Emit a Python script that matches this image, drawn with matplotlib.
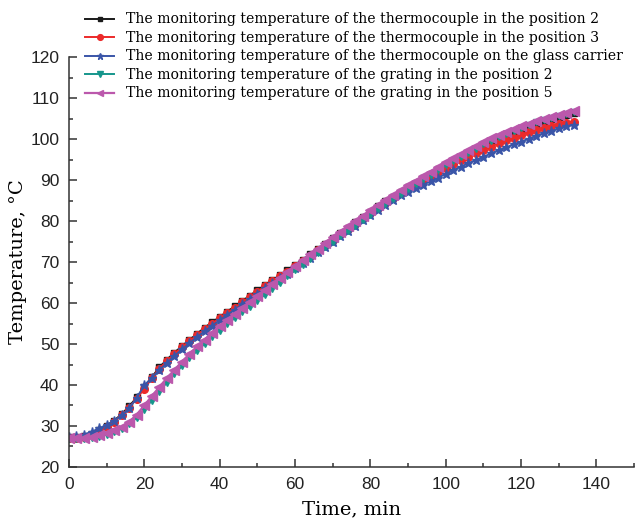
import matplotlib
matplotlib.use('Agg')
import numpy as np
import matplotlib.pyplot as plt
from matplotlib.ticker import MultipleLocator

# time axis, min (one reading every 2 min)
t = np.arange(0, 136, 2)

tc_pos2 = [27.2, 27.3, 27.6, 28.1, 28.9, 30.0, 31.3, 32.9, 34.8, 37.0,
           39.4, 41.9, 44.3, 46.2, 47.9, 49.5, 51.0, 52.5, 54.0, 55.3,
           56.6, 57.9, 59.2, 60.5, 61.8, 63.1, 64.4, 65.6, 66.8, 68.0,
           69.3, 70.6, 71.9, 73.2, 74.5, 75.8, 77.1, 78.4, 79.7, 81.0,
           82.3, 83.6, 84.8, 86.0, 87.2, 88.3, 89.4, 90.5, 91.6, 92.6,
           93.6, 94.6, 95.6, 96.6, 97.5, 98.4, 99.3, 100.1, 100.9, 101.7,
           102.4, 103.1, 103.7, 104.3, 104.8, 105.3, 105.9, 106.4]
tc_pos3 = [27.0, 27.1, 27.4, 27.9, 28.6, 29.7, 31.0, 32.6, 34.5, 36.7,
           39.1, 41.6, 44.0, 45.9, 47.6, 49.2, 50.7, 52.2, 53.7, 55.0,
           56.3, 57.6, 58.9, 60.2, 61.5, 62.8, 64.1, 65.3, 66.5, 67.7,
           69.0, 70.3, 71.6, 72.9, 74.2, 75.5, 76.8, 78.1, 79.4, 80.7,
           82.0, 83.3, 84.5, 85.7, 86.9, 88.0, 89.1, 90.1, 91.1, 92.1,
           93.0, 93.9, 94.8, 95.7, 96.6, 97.4, 98.2, 99.0, 99.7, 100.4,
           101.1, 101.7, 102.3, 102.8, 103.3, 103.7, 104.0, 104.3]
tc_glass = [27.3, 27.5, 27.9, 28.6, 29.4, 30.3, 31.3, 32.6, 34.3, 36.9,
            39.9, 41.8, 43.6, 45.4, 47.1, 48.7, 50.2, 51.7, 53.1, 54.5,
            55.8, 57.1, 58.4, 59.7, 61.0, 62.3, 63.6, 64.8, 66.0, 67.2,
            68.5, 69.8, 71.1, 72.4, 73.7, 75.0, 76.3, 77.6, 78.9, 80.2,
            81.5, 82.8, 84.0, 85.2, 86.4, 87.2, 88.0, 88.9, 89.7, 90.6,
            91.5, 92.4, 93.3, 94.1, 94.9, 95.7, 96.5, 97.3, 98.0, 98.7,
            99.4, 100.1, 100.8, 101.4, 102.0, 102.6, 103.1, 103.5]
gr_pos2 = [26.8, 26.8, 26.9, 27.1, 27.4, 27.9, 28.5, 29.3, 30.4, 32.0,
           34.0, 36.2, 38.4, 40.6, 42.6, 44.6, 46.5, 48.3, 50.0, 51.7,
           53.3, 54.8, 56.3, 57.7, 59.1, 60.5, 62.0, 63.5, 65.0, 66.5,
           68.0, 69.4, 70.8, 72.2, 73.6, 75.0, 76.3, 77.6, 78.9, 80.2,
           81.6, 82.9, 84.2, 85.4, 86.6, 87.8, 89.0, 90.2, 91.3, 92.4,
           93.6, 94.6, 95.7, 96.7, 97.7, 98.7, 99.6, 100.5, 101.3, 102.1,
           102.8, 103.5, 104.1, 104.7, 105.2, 105.7, 106.2, 106.7]
gr_pos5 = [27.0, 27.0, 27.1, 27.3, 27.7, 28.2, 28.9, 29.8, 31.0, 32.8,
           35.0, 37.3, 39.5, 41.7, 43.7, 45.7, 47.6, 49.4, 51.1, 52.8,
           54.4, 55.9, 57.4, 58.8, 60.2, 61.6, 63.1, 64.6, 66.1, 67.6,
           69.1, 70.5, 71.9, 73.3, 74.7, 76.1, 77.4, 78.7, 80.0, 81.3,
           82.6, 83.9, 85.1, 86.3, 87.5, 88.7, 89.9, 91.0, 92.1, 93.2,
           94.4, 95.4, 96.4, 97.4, 98.4, 99.3, 100.2, 101.0, 101.8, 102.5,
           103.2, 103.8, 104.4, 104.9, 105.4, 105.9, 106.4, 106.8]

labels = ['The monitoring temperature of the thermocouple in the position 2',
          'The monitoring temperature of the thermocouple in the position 3',
          'The monitoring temperature of the thermocouple on the glass carrier',
          'The monitoring temperature of the grating in the position 2',
          'The monitoring temperature of the grating in the position 5']

fig = plt.figure(figsize=(6.38, 5.2), dpi=100)
ax = fig.add_axes([0.108, 0.102, 0.886, 0.788])

lines = []
lines += ax.plot(t, tc_pos2, color='#1a1a1a', marker='s', ms=4, lw=1.4)
lines += ax.plot(t, tc_pos3, color='#ec2a2a', marker='o', ms=5.5, lw=1.4)
lines += ax.plot(t, tc_glass, color='#3a55a8', marker='*', ms=6.5, lw=1.4)
lines += ax.plot(t, gr_pos2, color='#16968c', marker='v', ms=5, lw=1.4)
lines += ax.plot(t, gr_pos5, color='#bb58ac', marker='<', ms=6.5, lw=1.6)

ax.set_xlim(0, 150)
ax.set_ylim(20, 120)
ax.set_xticks([0, 20, 40, 60, 80, 100, 120, 140])
ax.xaxis.set_minor_locator(MultipleLocator(10))
ax.yaxis.set_major_locator(MultipleLocator(10))
ax.yaxis.set_minor_locator(MultipleLocator(5))
ax.tick_params(which='both', direction='in', color='#333333', width=1.1,
               labelsize=12.5, labelcolor='#222222', pad=7)
ax.tick_params(which='major', length=6)
ax.tick_params(which='minor', length=3)
for lab in ax.get_xticklabels() + ax.get_yticklabels():
    lab.set_family('Liberation Sans')
ax.spines['top'].set_visible(False)
ax.spines['right'].set_visible(False)
for s in ['left', 'bottom']:
    ax.spines[s].set_color('#333333')
    ax.spines[s].set_linewidth(1.1)

ax.set_xlabel('Time, min', family='DejaVu Serif', fontsize=14, labelpad=6)
ax.set_ylabel('Temperature, \u00b0C', family='DejaVu Serif', fontsize=14, labelpad=2)

fig.legend(lines, labels, loc='upper left', bbox_to_anchor=(0.133, 0.976),
           frameon=False, borderpad=0, borderaxespad=0, handlelength=2.1,
           handletextpad=0.85, labelspacing=0.32, markerscale=0.75,
           prop={'family': 'DejaVu Serif', 'size': 10.1})

plt.savefig('out.png', dpi=100)
